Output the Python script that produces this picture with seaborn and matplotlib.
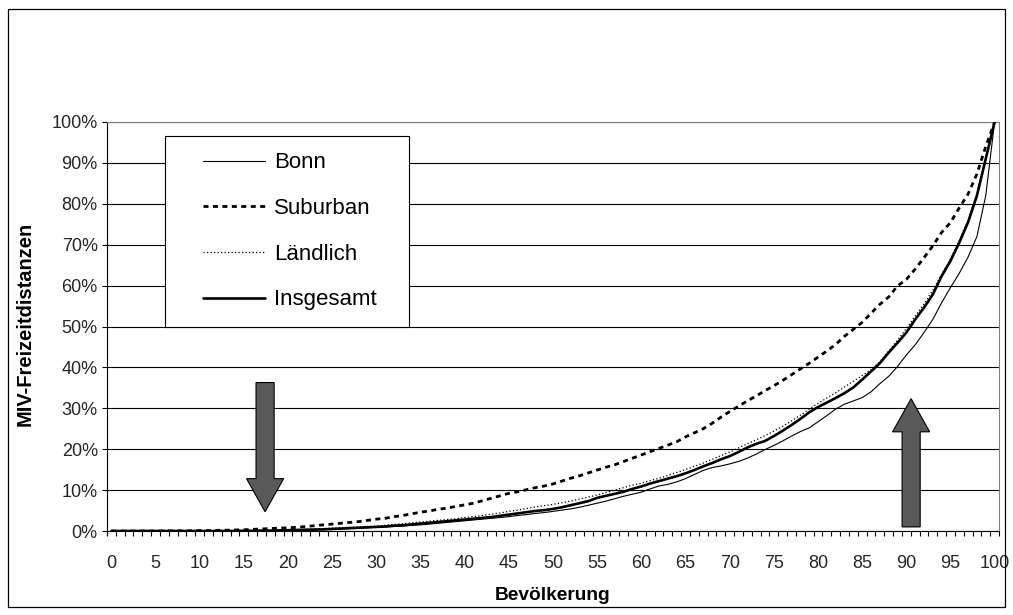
import numpy as np
import pandas as pd
import matplotlib
matplotlib.use("Agg")
import matplotlib.pyplot as plt
import seaborn as sns
from matplotlib.patches import Rectangle, FancyArrow
from matplotlib.ticker import PercentFormatter, FixedLocator
from matplotlib.lines import Line2D

# ---------------- data (percent of MIV leisure distances) ----------------
bevoelkerung = list(range(0, 101))

bonn = [
    0, 0, 0, 0, 0, 0, 0, 0, 0, 0,
    0, 0, 0, 0, 0, 0, 0.05, 0.05, 0.1, 0.1,
    0.15, 0.2, 0.25, 0.3, 0.35, 0.4, 0.5, 0.6, 0.7, 0.8,
    0.9, 1.0, 1.1, 1.2, 1.4, 1.5, 1.7, 1.9, 2.1, 2.3,
    2.5, 2.7, 2.9, 3.1, 3.3, 3.5, 3.8, 4.0, 4.3, 4.5,
    4.8, 5.1, 5.4, 5.8, 6.3, 6.8, 7.3, 7.9, 8.5, 9.0,
    9.5, 10.3, 11.0, 11.4, 12.0, 12.8, 13.8, 14.8, 15.5, 15.9,
    16.4, 17.0, 17.8, 18.8, 19.9, 20.9, 22.0, 23.2, 24.3, 25.2,
    26.7, 28.2, 29.8, 31.0, 31.8, 32.6, 34.0, 36.0, 37.8, 40.2,
    43.0, 45.5, 48.5, 51.7, 55.8, 59.5, 63.0, 67.0, 72.0, 82.0,
    100.0,
]

suburban = [
    0, 0, 0, 0, 0, 0, 0, 0.05, 0.05, 0.05,
    0.1, 0.1, 0.15, 0.2, 0.25, 0.3, 0.4, 0.5, 0.6, 0.7,
    0.8, 0.9, 1.1, 1.3, 1.5, 1.7, 1.9, 2.1, 2.3, 2.6,
    2.9, 3.1, 3.5, 3.8, 4.2, 4.6, 4.9, 5.3, 5.6, 6.0,
    6.4, 6.8, 7.4, 8.0, 8.6, 9.2, 9.6, 10.1, 10.6, 11.0,
    11.5, 12.2, 12.9, 13.5, 14.2, 14.9, 15.6, 16.2, 17.0, 17.8,
    18.6, 19.4, 20.2, 21.0, 21.8, 23.0, 24.0, 25.0, 26.3, 27.8,
    29.2, 30.5, 31.8, 33.0, 34.3, 35.5, 36.8, 38.2, 39.6, 41.0,
    42.5, 44.0, 45.6, 47.6, 49.3, 51.0, 53.2, 55.4, 57.2, 59.9,
    61.5, 64.0, 66.8, 69.7, 73.0, 75.4, 79.0, 82.4, 87.3, 94.0,
    100.0,
]

laendlich = [
    0, 0, 0, 0, 0, 0, 0, 0, 0, 0,
    0, 0, 0, 0, 0, 0.05, 0.1, 0.1, 0.15, 0.2,
    0.3, 0.35, 0.4, 0.5, 0.6, 0.7, 0.8, 0.9, 1.0, 1.1,
    1.2, 1.4, 1.6, 1.8, 2.0, 2.2, 2.4, 2.6, 2.8, 3.0,
    3.3, 3.5, 3.8, 4.1, 4.4, 4.8, 5.1, 5.5, 5.9, 6.2,
    6.5, 6.9, 7.3, 7.8, 8.3, 8.8, 9.4, 10.0, 10.6, 11.2,
    11.7, 12.3, 12.9, 13.6, 14.3, 15.0, 15.8, 16.6, 17.5, 18.4,
    19.3, 20.3, 21.3, 22.3, 23.3, 24.4, 25.6, 26.9, 28.3, 29.8,
    31.2, 32.5, 33.8, 35.2, 36.6, 38.0, 39.4, 41.4, 44.0, 46.6,
    49.5, 52.5, 55.5, 58.8, 62.8, 66.5, 71.0, 76.0, 82.5, 91.0,
    100.0,
]

insgesamt = [
    0, 0, 0, 0, 0, 0, 0, 0, 0, 0,
    0, 0, 0, 0, 0.02, 0.05, 0.05, 0.1, 0.1, 0.15,
    0.2, 0.25, 0.3, 0.35, 0.4, 0.5, 0.6, 0.7, 0.8, 0.9,
    1.0, 1.1, 1.3, 1.4, 1.6, 1.8, 2.0, 2.2, 2.4, 2.6,
    2.8, 3.0, 3.2, 3.4, 3.7, 4.0, 4.3, 4.6, 4.9, 5.1,
    5.4, 5.8, 6.3, 6.8, 7.3, 8.1, 8.6, 9.1, 9.6, 10.3,
    10.9, 11.6, 12.2, 12.8, 13.4, 14.1, 14.9, 15.8, 16.6, 17.5,
    18.3, 19.3, 20.4, 21.3, 22.0, 23.2, 24.5, 25.9, 27.4, 29.0,
    30.3, 31.4, 32.5, 33.7, 35.1, 37.0, 39.0, 41.0, 43.6, 46.0,
    48.5, 51.7, 54.6, 57.8, 62.3, 66.0, 70.5, 75.5, 82.0, 91.0,
    100.0,
]

series_names = ["Bonn", "Suburban", "Ländlich", "Insgesamt"]
series_values = [bonn, suburban, laendlich, insgesamt]
x_tick_labels = [str(v) for v in range(0, 101, 5)]
x_label = "Bevölkerung"
y_label = "MIV-Freizeitdistanzen"

# ---------------- styling ----------------
sns.set_theme(style="white")
plt.rcParams["font.family"] = ["Liberation Sans", "DejaVu Sans"]
plt.rcParams["axes.unicode_minus"] = False

styles = {
    "Bonn": dict(lw=0.8, ls="-"),
    "Suburban": dict(lw=2.0, ls=(0, (1.8, 1.6))),
    "Ländlich": dict(lw=0.9, ls=(0, (1.0, 1.8))),
    "Insgesamt": dict(lw=1.9, ls="-"),
}

W, H = 1013, 615
fig = plt.figure(figsize=(W / 100, H / 100), dpi=100)
fig.patch.set_facecolor("white")
ax_l, ax_r, ax_t, ax_b = 107, 999, 122, 531
ax = fig.add_axes([ax_l / W, 1 - ax_b / H, (ax_r - ax_l) / W, (ax_b - ax_t) / H])
ax.set_facecolor("white")

for name, vals in zip(series_names, series_values):
    d = pd.DataFrame({"x": bevoelkerung, "y": np.array(vals) / 100.0})
    sns.lineplot(data=d, x="x", y="y", ax=ax, color="black",
                 linewidth=styles[name]["lw"], linestyle=styles[name]["ls"],
                 errorbar=None, zorder=4)

ax.set_xlim(-0.5, 100.5)
ax.set_ylim(0, 1.0)

# y axis
ax.set_yticks(np.linspace(0, 1, 11))
ax.yaxis.set_major_formatter(PercentFormatter(1.0, decimals=0))
ax.yaxis.grid(True, color="black", lw=0.8)
ax.xaxis.grid(False)
ax.set_axisbelow(True)
ax.tick_params(axis="y", which="major", direction="out", length=3.6, width=0.8,
               color="black", labelsize=13, pad=3, left=True)

# x axis: labels at every 5th category, tick marks between categories
ax.set_xticks(list(range(0, 101, 5)))
ax.set_xticklabels(x_tick_labels)
ax.xaxis.set_minor_locator(FixedLocator(np.arange(-0.5, 101, 1.0)))
ax.tick_params(axis="x", which="major", length=0, labelsize=13, pad=17, bottom=True)
ax.tick_params(axis="x", which="minor", direction="out", length=3.6, width=0.8,
               color="black", bottom=True)
ax.set_xlabel("")
ax.set_ylabel("")

for s in ["left", "bottom"]:
    ax.spines[s].set_color("black")
    ax.spines[s].set_linewidth(0.8)
for s in ["top", "right"]:
    ax.spines[s].set_color("#808080")
    ax.spines[s].set_linewidth(0.8)

# legend with a square white frame
lx0, lx1, ly0, ly1 = 165, 409, 136, 327
frame = Rectangle(((lx0 - ax_l) / (ax_r - ax_l), 1 - (ly1 - ax_t) / (ax_b - ax_t)),
                  (lx1 - lx0) / (ax_r - ax_l), (ly1 - ly0) / (ax_b - ax_t),
                  transform=ax.transAxes, facecolor="white", edgecolor="black",
                  lw=0.8, zorder=5)
ax.add_patch(frame)
handles = [Line2D([0], [0], color="black", lw=styles[n]["lw"], ls=styles[n]["ls"])
           for n in series_names]
leg = ax.legend(handles, series_names, loc="center",
                bbox_to_anchor=(((lx0 + lx1) / 2 - ax_l) / (ax_r - ax_l) + 0.003,
                                1 - ((ly0 + ly1) / 2 - ax_t) / (ax_b - ax_t)),
                frameon=False, fontsize=16, handlelength=2.8, handletextpad=0.4,
                labelspacing=1.11)
leg.set_zorder(6)
for t in leg.get_texts():
    t.set_color("black")

# grey block arrows
arrow_kw = dict(length_includes_head=True, facecolor="#595959", edgecolor="black",
                lw=0.8, zorder=7)
ax.add_patch(FancyArrow(17.4, 0.363, 0, -0.316, width=2.05, head_width=4.2,
                        head_length=0.081, **arrow_kw))
ax.add_patch(FancyArrow(90.55, 0.010, 0, 0.3135, width=2.05, head_width=4.2,
                        head_length=0.081, **arrow_kw))

# axis titles
fig.text(553 / W, 1 - 596 / H, x_label, ha="center", va="center",
         fontsize=13.8, fontweight="bold", color="black")
fig.text(25 / W, 1 - 324 / H, y_label, ha="center", va="center", rotation=90,
         fontsize=14.5, fontweight="bold", color="black")

# chart-area border
fig.patches.append(Rectangle((8 / W, 1 - 607 / H), (1005 - 8) / W, (607 - 9) / H,
                             transform=fig.transFigure, fill=False,
                             edgecolor="black", lw=0.9))

fig.savefig("out.png", dpi=100)
